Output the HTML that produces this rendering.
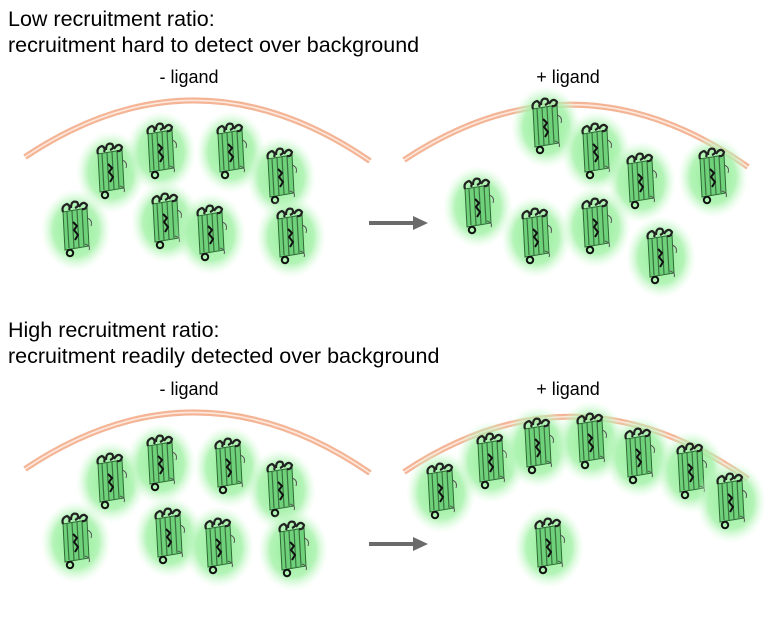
<!DOCTYPE html>
<html><head><meta charset="utf-8"><style>
body{margin:0;background:#fff;width:775px;height:624px;overflow:hidden;font-family:"Liberation Sans",Arial,sans-serif}
</style></head><body>
<svg width="775" height="624" viewBox="0 0 775 624" xmlns="http://www.w3.org/2000/svg">
<defs>
<radialGradient id="gl" cx="50%" cy="50%" r="50%">
<stop offset="0" stop-color="#8cee92" stop-opacity="1"/>
<stop offset="0.65" stop-color="#a6f2aa" stop-opacity="0.85"/>
<stop offset="1" stop-color="#d8fbda" stop-opacity="0"/>
</radialGradient>
<g id="p">
<ellipse cx="33" cy="42" rx="35" ry="41" fill="url(#gl)"/>
<path d="M20 24 L44 20 L46 58 L22 62 Z" fill="#6fd27b" stroke="#2e6a34" stroke-width="1"/>
<g stroke="#2b5a2f" stroke-width="1.2" opacity="0.8">
<line x1="24" y1="24" x2="26" y2="60"/><line x1="29" y1="23" x2="31" y2="60"/><line x1="34" y1="22" x2="36" y2="59"/><line x1="39" y1="21" x2="41" y2="58"/>
</g>
<path d="M30 34 l4 4 l-3 4 l4 5 l-3 5" stroke="#111" stroke-width="2" fill="none"/>
<path d="M20 24 q-2 -6 4 -8 q4 2 2 6 M28 20 q0 -8 6 -6 q3 4 -2 6 M36 19 q4 -7 8 -2 q-1 5 -5 4" stroke="#222" stroke-width="2.2" fill="none"/>
<circle cx="27" cy="65" r="3.2" fill="none" stroke="#111" stroke-width="2"/>
<path d="M44 30 q6 2 4 8 M42 56 q6 2 4 6" stroke="#555" stroke-width="1" fill="none"/>
</g>
</defs>
<g font-size="21.5" fill="#000">
<text x="8" y="26">Low recruitment ratio:</text>
<text x="8" y="52">recruitment hard to detect over background</text>
<text x="8" y="337">High recruitment ratio:</text>
<text x="8" y="363">recruitment readily detected over background</text>
</g>
<g font-size="18" fill="#000" text-anchor="middle">
<text x="189" y="83">- ligand</text><text x="568" y="83">+ ligand</text>
<text x="189" y="395">- ligand</text><text x="568" y="395">+ ligand</text>
</g>
<g fill="none" stroke-linecap="butt">
<g stroke="#f4b596" stroke-width="6">
<path d="M25 157 Q197 42 370 161"/><path d="M404 160 Q576 46 748 167"/>
<path d="M25 469 Q197 354 370 473"/><path d="M404 472 Q576 358 748 479"/>
</g>
<g stroke="#fde8dd" stroke-width="1.6">
<path d="M25 157 Q197 42 370 161"/><path d="M404 160 Q576 46 748 167"/>
<path d="M25 469 Q197 354 370 473"/><path d="M404 472 Q576 358 748 479"/>
</g>
</g>
<g fill="#6b6b6b"><rect x="369" y="221" width="46" height="4"/><path d="M413 216 L428 223 L413 230Z"/>
<rect x="369" y="542" width="46" height="4"/><path d="M413 537 L428 544 L413 551Z"/></g>
<g>
<use href="#p" x="78" y="130"/><use href="#p" x="128" y="110"/><use href="#p" x="198" y="110"/><use href="#p" x="248" y="135"/>
<use href="#p" x="43" y="188"/><use href="#p" x="133" y="180"/><use href="#p" x="178" y="192"/><use href="#p" x="258" y="195"/>
<use href="#p" x="513" y="85"/><use href="#p" x="563" y="110"/><use href="#p" x="608" y="140"/><use href="#p" x="680" y="135"/>
<use href="#p" x="445" y="165"/><use href="#p" x="503" y="195"/><use href="#p" x="563" y="185"/><use href="#p" x="628" y="215"/>
<use href="#p" x="78" y="440"/><use href="#p" x="128" y="422"/><use href="#p" x="196" y="425"/><use href="#p" x="248" y="448"/>
<use href="#p" x="43" y="500"/><use href="#p" x="136" y="495"/><use href="#p" x="186" y="505"/><use href="#p" x="260" y="508"/>
<use href="#p" x="408" y="450"/><use href="#p" x="458" y="420"/><use href="#p" x="505" y="405"/><use href="#p" x="558" y="400"/>
<use href="#p" x="606" y="415"/><use href="#p" x="658" y="430"/><use href="#p" x="698" y="460"/><use href="#p" x="516" y="505"/>
</g>
</svg>
</body></html>
